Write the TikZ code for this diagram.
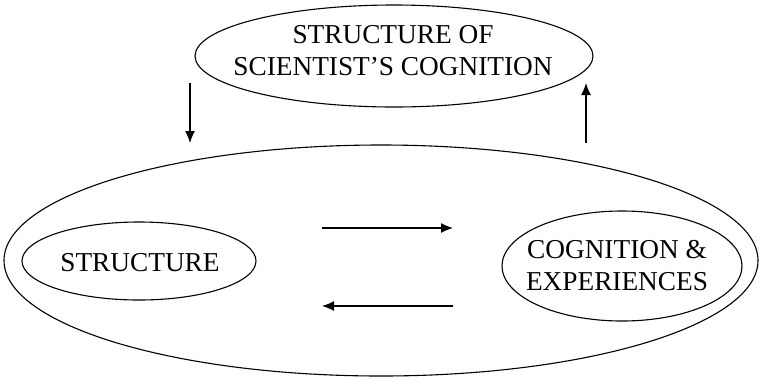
\documentclass[tikz,border=0pt]{standalone}
\usepackage{fontspec}
\setmainfont{Liberation Serif}
\usetikzlibrary{shapes.geometric,arrows.meta}
\begin{document}
\begin{tikzpicture}[x=1pt,y=-1pt,
  oval/.style={draw,ellipse,line width=1.1pt,inner sep=0pt},
  lbl/.style={font=\fontsize{27.3}{32}\selectfont,align=center,inner sep=0pt},
  arr/.style={line width=1.3pt,-{Latex[length=12pt,width=10pt]}}]
\useasboundingbox (0,0) rectangle (763,384);
\node[oval,minimum width=398pt,minimum height=102pt] (top) at (394,56) {};
\node[oval,minimum width=754pt,minimum height=231pt] (big) at (381,260.5) {};
\node[oval,minimum width=234pt,minimum height=78pt] (str) at (139,261) {};
\node[oval,minimum width=240pt,minimum height=110pt] (cog) at (622,266) {};
\node[lbl] (toptxt) at (393,51) {STRUCTURE OF\\SCIENTIST’S COGNITION};
\node[lbl] (strtxt) at (140,263) {STRUCTURE};
\node[lbl] (cogtxt) at (617,266) {COGNITION \&\\EXPERIENCES};
\coordinate (d1) at (190,83);
\coordinate (d2) at (190,143);
\coordinate (u1) at (586,143);
\coordinate (u2) at (586,83);
\coordinate (r1) at (322,228);
\coordinate (r2) at (453,228);
\coordinate (l1) at (453,306);
\coordinate (l2) at (322,306);
\draw[arr] (d1) -- (d2);
\draw[arr] (u1) -- (u2);
\draw[arr] (r1) -- (r2);
\draw[arr] (l1) -- (l2);
\end{tikzpicture}
\end{document}
